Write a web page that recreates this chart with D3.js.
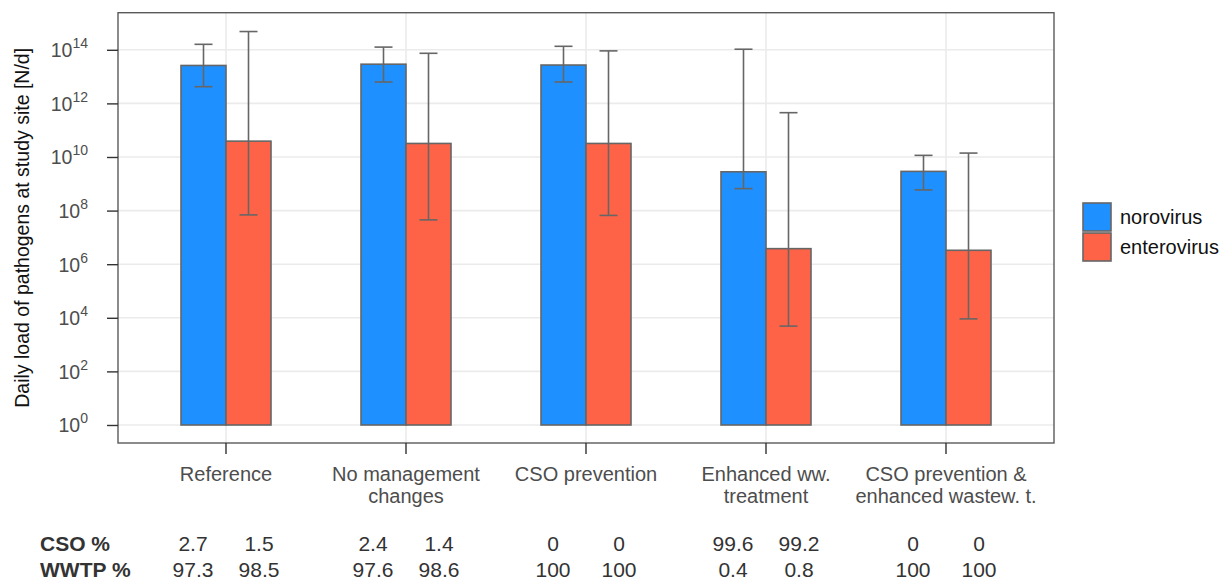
<!DOCTYPE html>
<html>
<head>
<meta charset="utf-8">
<script src="https://cdnjs.cloudflare.com/ajax/libs/d3/7.8.5/d3.min.js"></script>
<style>
  html, body { margin: 0; padding: 0; background: #fff; }
  svg { display: block; font-family: "Liberation Sans", Arial, sans-serif; }
</style>
</head>
<body>
<svg id="chart" width="1231" height="581"></svg>
<script>
// ---- data ----
const categories = ["Reference", "No management\nchanges", "CSO prevention", "Enhanced ww.\ntreatment", "CSO prevention &\nenhanced wastew. t."];
const seriesNames = ["norovirus", "enterovirus"];
const norovirus = [2.6e13, 2.9e13, 2.7e13, 2.8e9, 2.9e9];
const norovirusLow = [4.2e12, 6.3e12, 6.3e12, 6.6e8, 5.9e8];
const norovirusHigh = [1.6e14, 1.26e14, 1.35e14, 1.05e14, 1.15e10];
const enterovirus = [3.9e10, 3.2e10, 3.2e10, 3.8e6, 3.3e6];
const enterovirusLow = [6.9e7, 4.5e7, 6.6e7, 4.9e3, 9.1e3];
const enterovirusHigh = [4.8e14, 7.4e13, 9.1e13, 4.5e11, 1.4e10];
const yTicks = [1e0, 1e2, 1e4, 1e6, 1e8, 1e10, 1e12, 1e14];
const rowLabels = ["CSO %", "WWTP %"];
const csoNoro = ["2.7", "2.4", "0", "99.6", "0"];
const csoEntero = ["1.5", "1.4", "0", "99.2", "0"];
const wwtpNoro = ["97.3", "97.6", "100", "0.4", "100"];
const wwtpEntero = ["98.5", "98.6", "100", "0.8", "100"];
const colors = ["#1E90FF", "#FF6347"];

// ---- layout ----
const svg = d3.select("#chart");
const panel = { left: 118, right: 1054, top: 12.7, bottom: 443 };
const x = d3.scaleBand().domain(categories).range([panel.left, panel.right]).paddingInner(0).paddingOuter(0.1);
const y = d3.scaleLog().domain([Math.pow(10, -0.672), Math.pow(10, 15.384)]).range([panel.bottom, panel.top]);
const barW = x.step() * 0.25;
const textCol = "#4D4D4D";
const outline = "#666666";

// panel background + grid
const g = svg.append("g");
g.append("rect").attr("x", panel.left).attr("y", panel.top)
  .attr("width", panel.right - panel.left).attr("height", panel.bottom - panel.top).attr("fill", "#fff");
g.selectAll(".hgrid").data(yTicks).enter().append("line")
  .attr("x1", panel.left).attr("x2", panel.right)
  .attr("y1", d => y(d)).attr("y2", d => y(d))
  .attr("stroke", "#EBEBEB").attr("stroke-width", 1.6);
g.selectAll(".vgrid").data(categories).enter().append("line")
  .attr("x1", d => x(d) + x.bandwidth() / 2).attr("x2", d => x(d) + x.bandwidth() / 2)
  .attr("y1", panel.top).attr("y2", panel.bottom)
  .attr("stroke", "#EBEBEB").attr("stroke-width", 1.6);

// bars
const series = [
  { name: seriesNames[0], vals: norovirus, lo: norovirusLow, hi: norovirusHigh, off: -1 },
  { name: seriesNames[1], vals: enterovirus, lo: enterovirusLow, hi: enterovirusHigh, off: 0 }
];
series.forEach((s, si) => {
  const cx = (c) => x(c) + x.bandwidth() / 2;
  g.selectAll(".bar" + si).data(categories).enter().append("rect")
    .attr("x", (c) => cx(c) + s.off * barW)
    .attr("y", (c, i) => y(s.vals[i]))
    .attr("width", barW)
    .attr("height", (c, i) => y(1) - y(s.vals[i]))
    .attr("fill", colors[si]).attr("stroke", outline).attr("stroke-width", 1.6);
});
series.forEach((s, si) => {
  const ex = (c) => x(c) + x.bandwidth() / 2 + s.off * barW + barW / 2;
  const ww = 9;
  const eg = g.selectAll(".err" + si).data(categories).enter().append("g");
  eg.append("line").attr("x1", ex).attr("x2", ex)
    .attr("y1", (c, i) => y(s.lo[i])).attr("y2", (c, i) => y(s.hi[i]))
    .attr("stroke", outline).attr("stroke-width", 1.6);
  eg.append("line").attr("x1", c => ex(c) - ww).attr("x2", c => ex(c) + ww)
    .attr("y1", (c, i) => y(s.lo[i])).attr("y2", (c, i) => y(s.lo[i]))
    .attr("stroke", outline).attr("stroke-width", 1.6);
  eg.append("line").attr("x1", c => ex(c) - ww).attr("x2", c => ex(c) + ww)
    .attr("y1", (c, i) => y(s.hi[i])).attr("y2", (c, i) => y(s.hi[i]))
    .attr("stroke", outline).attr("stroke-width", 1.6);
});

// panel border
g.append("rect").attr("x", panel.left).attr("y", panel.top)
  .attr("width", panel.right - panel.left).attr("height", panel.bottom - panel.top)
  .attr("fill", "none").attr("stroke", "#5a5a5a").attr("stroke-width", 1.4);

// y axis
const yAxis = d3.axisLeft(y).tickValues(yTicks).tickSize(11).tickFormat("");
const ya = svg.append("g").attr("transform", `translate(${panel.left},0)`).call(yAxis);
ya.select(".domain").remove();
ya.selectAll(".tick line").attr("stroke", "#333").attr("stroke-width", 1.4);
ya.selectAll(".tick").each(function (d) {
  const exp = Math.round(Math.log10(d));
  const t = d3.select(this).append("text")
    .attr("x", -30).attr("y", 7).attr("text-anchor", "end")
    .attr("fill", textCol).style("font-size", "19.5px");
  t.append("tspan").text("10");
  t.append("tspan").attr("dy", -9).style("font-size", "14px").text(exp);
});

// x axis
const xAxis = d3.axisBottom(x).tickSize(11).tickFormat("");
const xa = svg.append("g").attr("transform", `translate(0,${panel.bottom})`).call(xAxis);
xa.select(".domain").remove();
xa.selectAll(".tick line").attr("stroke", "#333").attr("stroke-width", 1.4);
xa.selectAll(".tick").each(function (d) {
  const lines = d.split("\n");
  const t = d3.select(this).append("text").attr("text-anchor", "middle")
    .attr("fill", textCol).style("font-size", "20px");
  lines.forEach((ln, i) => {
    t.append("tspan").attr("x", 0).attr("y", 38 + i * 22).text(ln);
  });
});

// y axis title
svg.append("text")
  .attr("transform", `translate(29,${(panel.top + panel.bottom) / 2}) rotate(-90)`)
  .attr("text-anchor", "middle").attr("fill", "#111").style("font-size", "19.5px")
  .text("Daily load of pathogens at study site [N/d]");

// legend
const lg = svg.append("g").attr("transform", "translate(1083,203)");
seriesNames.forEach((n, i) => {
  lg.append("rect").attr("x", 0).attr("y", i * 30).attr("width", 28).attr("height", 28)
    .attr("fill", colors[i]).attr("stroke", outline).attr("stroke-width", 1.6);
  lg.append("text").attr("x", 37).attr("y", i * 30 + 21).attr("fill", "#111")
    .style("font-size", "20px").text(n);
});

// table rows below
const rows = [
  { label: rowLabels[0], a: csoNoro, b: csoEntero, yb: 551 },
  { label: rowLabels[1], a: wwtpNoro, b: wwtpEntero, yb: 577 }
];
rows.forEach(r => {
  svg.append("text").attr("x", 40).attr("y", r.yb).attr("fill", "#333")
    .style("font-size", "21px").style("font-weight", "bold").text(r.label);
  categories.forEach((c, i) => {
    const cx = x(c) + x.bandwidth() / 2;
    svg.append("text").attr("x", cx - 33).attr("y", r.yb).attr("text-anchor", "middle")
      .attr("fill", "#333").style("font-size", "21px").text(r.a[i]);
    svg.append("text").attr("x", cx + 33).attr("y", r.yb).attr("text-anchor", "middle")
      .attr("fill", "#333").style("font-size", "21px").text(r.b[i]);
  });
});
</script>
</body>
</html>
